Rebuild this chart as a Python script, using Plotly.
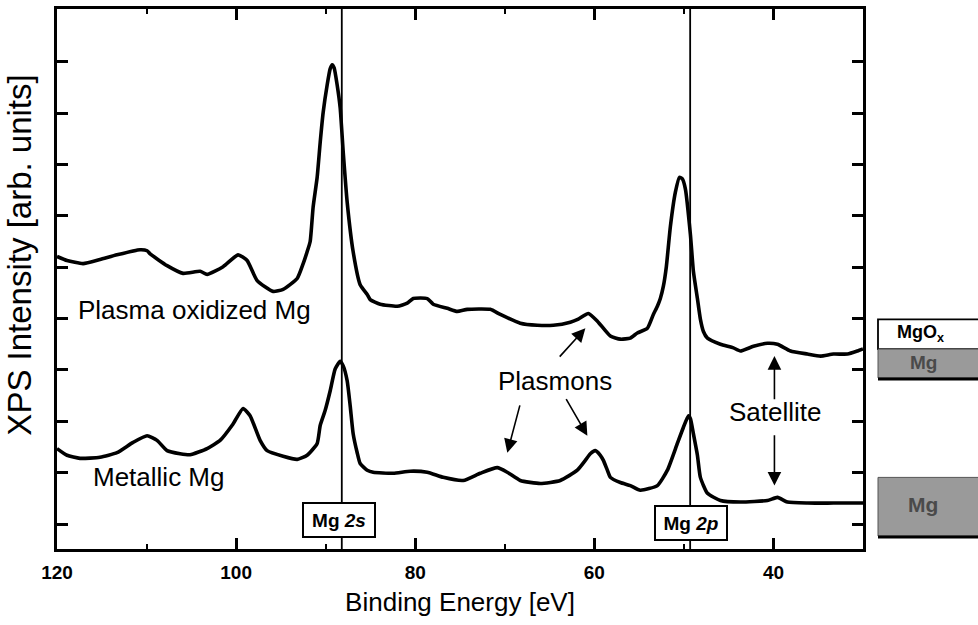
import plotly.graph_objects as go

# ---------------- data ----------------
energy_ox = [120.0, 118.88, 117.09, 115.2, 113.3, 110.73, 109.94, 109.6, 107.71, 105.92,
             104.02, 103.24, 101.45, 99.78, 98.77, 97.65, 95.87, 94.75, 93.18, 92.51,
             92.07, 91.73, 91.4, 90.95, 90.61, 90.28, 89.83, 89.5, 89.27, 89.05,
             88.72, 88.38, 88.04, 87.6, 86.93, 86.15, 85.36, 85.03, 83.91, 82.01,
             80.89, 80.22, 78.66, 77.99, 76.42, 75.31, 74.19, 71.62, 70.5, 68.27,
             66.37, 64.58, 62.68, 61.79, 60.67, 59.66, 58.21, 57.09, 55.98, 55.2,
             54.08, 53.41, 52.96, 52.63, 52.29, 51.96, 51.51, 50.95, 50.5, 50.17,
             49.83, 49.27, 48.94, 48.49, 48.16, 47.82, 47.37, 45.92, 44.47, 43.69,
             42.23, 40.67, 39.55, 38.1, 36.2, 34.75, 33.3, 31.73, 30.61, 30.0]
intensity_ox = [6.21, 6.13, 6.07, 6.15, 6.24, 6.34, 6.32, 6.26, 6.03, 5.88,
                5.92, 5.86, 6.01, 6.24, 6.13, 5.74, 5.53, 5.57, 5.78, 6.07,
                6.30, 6.50, 7.17, 7.75, 8.43, 9.01, 9.55, 9.86, 9.94, 9.88,
                9.55, 9.10, 8.24, 7.27, 6.30, 5.66, 5.47, 5.37, 5.28, 5.24,
                5.30, 5.39, 5.39, 5.28, 5.20, 5.14, 5.18, 5.18, 5.08, 4.91,
                4.87, 4.87, 4.93, 4.99, 5.10, 4.95, 4.66, 4.60, 4.62, 4.72,
                4.81, 5.08, 5.24, 5.39, 5.63, 6.01, 6.79, 7.46, 7.75, 7.72,
                7.52, 6.63, 5.92, 5.39, 4.99, 4.75, 4.62, 4.50, 4.43, 4.37,
                4.46, 4.52, 4.50, 4.37, 4.31, 4.27, 4.31, 4.31, 4.37, 4.41]

energy_met = [120.0, 118.88, 117.43, 115.2, 113.3, 111.51, 109.94, 108.83, 107.71, 106.26,
              105.14, 103.24, 101.79, 100.34, 99.22, 98.44, 97.32, 96.54, 94.75, 93.18,
              92.07, 90.95, 90.61, 90.06, 89.5, 88.94, 88.38, 88.04, 87.6, 87.26,
              86.93, 86.48, 86.15, 85.36, 84.69, 82.46, 80.56, 78.66, 76.87, 74.64,
              72.74, 70.84, 69.72, 68.27, 66.03, 63.8, 61.9, 61.01, 60.45, 59.89,
              59.33, 58.99, 58.55, 58.21, 57.09, 55.98, 54.86, 52.96, 51.84, 50.73,
              50.06, 49.5, 49.27, 48.94, 48.49, 48.16, 47.37, 45.92, 43.69, 40.67,
              39.55, 38.44, 36.2, 33.3, 30.0]
intensity_met = [2.47, 2.34, 2.28, 2.30, 2.39, 2.59, 2.72, 2.63, 2.43, 2.37,
                 2.35, 2.47, 2.63, 2.95, 3.25, 3.11, 2.63, 2.43, 2.32, 2.26,
                 2.34, 2.57, 2.92, 3.21, 3.59, 4.02, 4.17, 4.08, 3.79, 3.30,
                 2.76, 2.39, 2.18, 2.05, 2.01, 1.99, 2.03, 2.01, 1.91, 1.85,
                 1.99, 2.10, 2.01, 1.85, 1.79, 1.85, 2.05, 2.24, 2.37, 2.43,
                 2.34, 2.24, 2.05, 1.91, 1.81, 1.75, 1.66, 1.75, 2.05, 2.57,
                 2.88, 3.11, 3.05, 2.76, 2.34, 1.91, 1.60, 1.46, 1.43, 1.46,
                 1.52, 1.43, 1.41, 1.41, 1.41]

x_tick_vals = [120, 100, 80, 60, 40]
x_tick_text = ["120", "100", "80", "60", "40"]
x_minor_vals = [110, 90, 70, 50]
y_tick_vals = [1, 2, 3, 4, 5, 6, 7, 8, 9, 10]
peak_lines = [88.2, 49.3]
peak_labels = ["<b>Mg <i>2s</i></b>", "<b>Mg <i>2p</i></b>"]

FONT = "Liberation Sans"

fig = go.Figure()
fig.add_trace(go.Scatter(x=energy_ox, y=intensity_ox, mode="lines",
                         line=dict(color="black", width=3.6, shape="spline", smoothing=0.5),
                         showlegend=False, hoverinfo="skip"))
fig.add_trace(go.Scatter(x=energy_met, y=intensity_met, mode="lines",
                         line=dict(color="black", width=3.6, shape="spline", smoothing=0.5),
                         showlegend=False, hoverinfo="skip"))

shapes = []
for xv in peak_lines:
    shapes.append(dict(type="line", xref="x", yref="paper", x0=xv, x1=xv, y0=0, y1=1,
                       line=dict(color="black", width=1.8), layer="below"))

# inset schematic (right of plot), paper coords
def px2paper_x(px):
    return (px - 57) / 806.0

def px2paper_y(py):
    return (549 - py) / 543.0

grey = "#9a9a9a"
# MgOx / Mg stack
shapes.append(dict(type="rect", xref="paper", yref="paper",
                   x0=px2paper_x(878), x1=px2paper_x(990), y0=px2paper_y(348), y1=px2paper_y(318),
                   fillcolor="white", line=dict(color="black", width=1.8)))
shapes.append(dict(type="rect", xref="paper", yref="paper",
                   x0=px2paper_x(878), x1=px2paper_x(990), y0=px2paper_y(377), y1=px2paper_y(348),
                   fillcolor=grey, line=dict(color="#555", width=1)))
shapes.append(dict(type="line", xref="paper", yref="paper",
                   x0=px2paper_x(878), x1=px2paper_x(990), y0=px2paper_y(378), y1=px2paper_y(378),
                   line=dict(color="black", width=3)))
# Mg only
shapes.append(dict(type="rect", xref="paper", yref="paper",
                   x0=px2paper_x(878), x1=px2paper_x(990), y0=px2paper_y(536), y1=px2paper_y(477),
                   fillcolor=grey, line=dict(color="#555", width=1)))
shapes.append(dict(type="line", xref="paper", yref="paper",
                   x0=px2paper_x(878), x1=px2paper_x(990), y0=px2paper_y(537), y1=px2paper_y(537),
                   line=dict(color="black", width=3)))

annotations = []
txt = dict(family=FONT, size=26, color="black")
annotations.append(dict(x=104.6, y=5.16, text="Plasma oxidized Mg", showarrow=False, font=txt,
                        xanchor="center", yanchor="middle"))
annotations.append(dict(x=108.7, y=1.91, text="Metallic Mg", showarrow=False, font=txt,
                        xanchor="center", yanchor="middle"))
annotations.append(dict(x=64.36, y=3.79, text="Plasmons", showarrow=False, font=txt,
                        xanchor="center", yanchor="middle"))
annotations.append(dict(x=39.8, y=3.19, text="Satellite", showarrow=False, font=txt,
                        xanchor="center", yanchor="middle"))

arrow_defs = [
    (61.0, 4.81, 64.02, 4.23),
    (69.72, 2.39, 68.27, 3.34),
    (60.78, 2.72, 63.24, 3.46),
    (39.89, 4.27, 39.89, 3.40),
    (39.89, 1.75, 39.89, 2.76),
]
for hx, hy, tx, ty in arrow_defs:
    annotations.append(dict(x=hx, y=hy, ax=tx, ay=ty, xref="x", yref="y", axref="x", ayref="y",
                            text="", showarrow=True, arrowhead=2, arrowsize=1.7, arrowwidth=1.6,
                            arrowcolor="black"))

box_pos = [(88.5, 1.08), (49.16, 1.02)]
for (bx, by), lab in zip(box_pos, peak_labels):
    annotations.append(dict(x=bx, y=by, text=lab, showarrow=False,
                            font=dict(family=FONT, size=19, color="black"),
                            bgcolor="white", bordercolor="black", borderwidth=2,
                            width=68, height=30, borderpad=1,
                            xanchor="center", yanchor="middle"))

# y-axis title as annotation
annotations.append(dict(xref="paper", yref="paper", x=px2paper_x(20), y=px2paper_y(254),
                        text="XPS Intensity [arb. units]", showarrow=False, textangle=-90,
                        font=dict(family=FONT, size=33, color="black"),
                        xanchor="center", yanchor="middle"))

# inset labels
annotations.append(dict(xref="paper", yref="paper", x=px2paper_x(921), y=px2paper_y(332),
                        text="<b>MgO<sub>x</sub></b>", showarrow=False,
                        font=dict(family=FONT, size=18, color="black"),
                        xanchor="center", yanchor="middle"))
annotations.append(dict(xref="paper", yref="paper", x=px2paper_x(923), y=px2paper_y(361),
                        text="<b>Mg</b>", showarrow=False,
                        font=dict(family=FONT, size=19, color="#4a4a4a"),
                        xanchor="center", yanchor="middle"))
annotations.append(dict(xref="paper", yref="paper", x=px2paper_x(923), y=px2paper_y(504),
                        text="<b>Mg</b>", showarrow=False,
                        font=dict(family=FONT, size=21, color="#4a4a4a"),
                        xanchor="center", yanchor="middle"))

fig.update_layout(
    width=978, height=625,
    margin=dict(l=57, r=115, t=6, b=76),
    paper_bgcolor="white", plot_bgcolor="white",
    shapes=shapes, annotations=annotations,
    showlegend=False,
    xaxis=dict(range=[120, 30], tickvals=x_tick_vals, ticktext=x_tick_text,
               ticks="inside", ticklen=11, tickwidth=2.5, tickcolor="black",
               minor=dict(tickvals=x_minor_vals, ticks="inside", ticklen=5, tickwidth=2,
                          tickcolor="black"),
               showline=True, linecolor="black", linewidth=3, mirror="ticks",
               showgrid=False, zeroline=False,
               tickfont=dict(family=FONT, size=19, color="black", weight="bold"),
               ticklabelstandoff=4,
               title=dict(text="Binding Energy [eV]", font=dict(family=FONT, size=26, color="black"),
                          standoff=12)),
    yaxis=dict(range=[0.516, 11.025], tickvals=y_tick_vals, showticklabels=False,
               ticks="inside", ticklen=11, tickwidth=2.5, tickcolor="black",
               showline=True, linecolor="black", linewidth=3, mirror="ticks",
               showgrid=False, zeroline=False),
)

fig.write_html("out.html")
